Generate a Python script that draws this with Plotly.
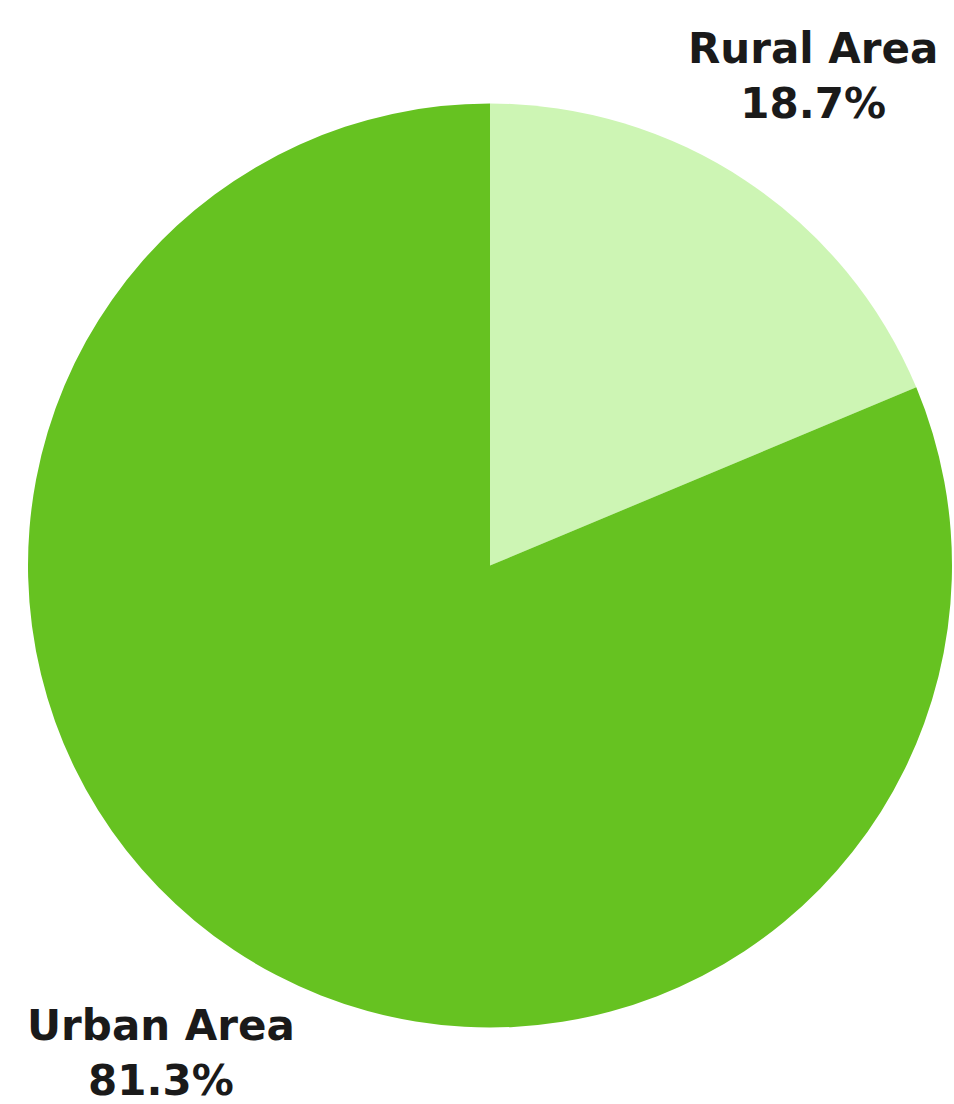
import plotly.graph_objects as go

labels = ["Rural Area", "Urban Area"]
values = [18.7, 81.3]
colors = ["#cdf5b4", "#66c221"]

W, H = 954, 1104
cx, cy, r = 490, 565.5, 462

fig = go.Figure(go.Pie(
    labels=labels, values=values, sort=False, direction="clockwise", rotation=0,
    marker=dict(colors=colors, line=dict(width=0)),
    textinfo="none", hoverinfo="label+percent", showlegend=False,
    domain=dict(x=[(cx - r) / W, (cx + r) / W], y=[(H - cy - r) / H, (H - cy + r) / H]),
))

label_pos = [(813, 76), (161, 1053)]
for lab, val, (x, y) in zip(labels, values, label_pos):
    fig.add_annotation(
        x=x / W, y=1 - y / H, xref="paper", yref="paper",
        text=f"{lab}<br>{val:.1f}%", showarrow=False, align="center",
        xanchor="center", yanchor="middle",
        font=dict(family="DejaVu Sans", size=42, color="#1a1a1a", weight="bold"),
    )

fig.update_layout(width=W, height=H, margin=dict(l=0, r=0, t=0, b=0),
                  paper_bgcolor="white", plot_bgcolor="white")
fig.write_html("out.html", config={"displayModeBar": False},
               post_script="document.body.style.margin='0px';document.body.style.overflow='hidden';")
